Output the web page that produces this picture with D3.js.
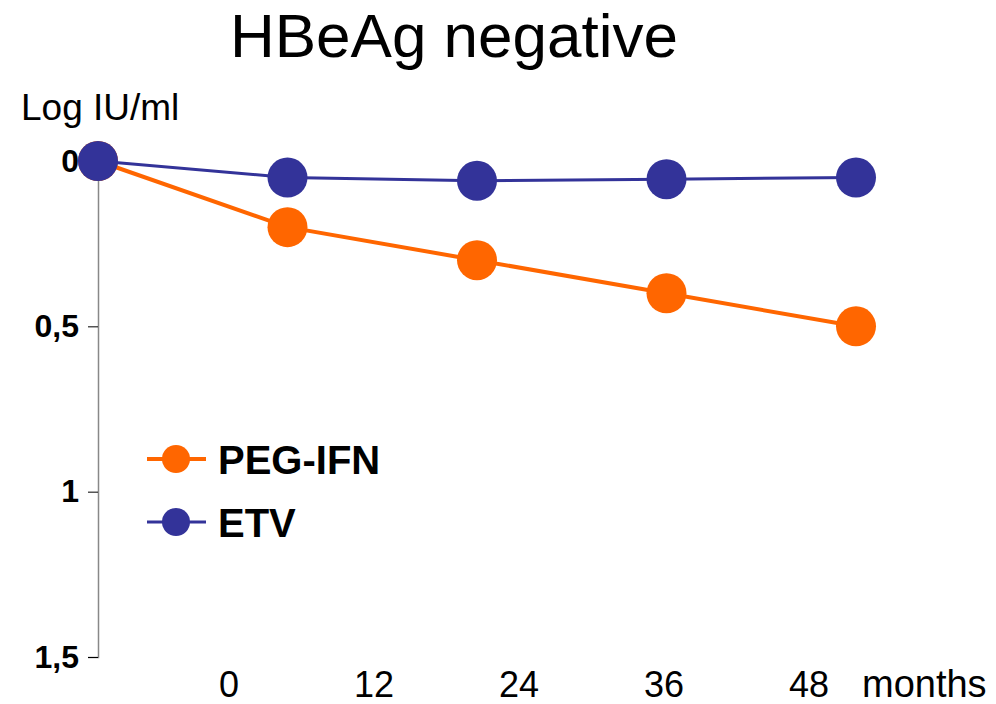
<!DOCTYPE html>
<html>
<head>
<meta charset="utf-8">
<script src="https://cdn.jsdelivr.net/npm/d3@7"></script>
<style>
  html, body { margin: 0; padding: 0; background: #fff; }
  svg { display: block; font-family: "Liberation Sans", Arial, sans-serif; }
</style>
</head>
<body>
<svg id="chart" width="996" height="704"></svg>
<script>
// Visit index (baseline + four follow-ups)
const visits = [0, 1, 2, 3, 4];
// Decline in log IU/ml per treatment arm
const pegIfn = [0, 0.2, 0.3, 0.4, 0.5];
const etv = [0, 0.05, 0.06, 0.055, 0.05];
// Axis labels
const yTicks = [0, 0.5, 1, 1.5];
const monthTicks = [0, 12, 24, 36, 48];

const series = [
  { name: "PEG-IFN", values: pegIfn, color: "#FF6600", width: 4 },
  { name: "ETV", values: etv, color: "#333399", width: 3 }
];

const svg = d3.select("#chart");

const x = d3.scalePoint().domain(visits).range([98, 856]);
const y = d3.scaleLinear().domain([0, 1.5]).range([161, 657]);
const xMonths = d3.scaleLinear().domain([0, 48]).range([229, 809]);

// Title
svg.append("text")
  .attr("x", 454).attr("y", 57)
  .attr("text-anchor", "middle")
  .attr("font-size", 62)
  .attr("fill", "#000")
  .text("HBeAg negative");

// Y axis title
svg.append("text")
  .attr("x", 21).attr("y", 120)
  .attr("font-size", 37)
  .attr("fill", "#000")
  .text("Log IU/ml");

// Y axis
const yAxis = svg.append("g")
  .attr("transform", "translate(98,0)")
  .call(d3.axisLeft(y)
    .tickValues(yTicks)
    .tickSize(10)
    .tickPadding(9)
    .tickFormat(d => String(d).replace(".", ",")));
yAxis.select(".domain").attr("stroke", "#888").attr("stroke-width", 1.5);
yAxis.selectAll(".tick line").attr("stroke", "#000").attr("stroke-width", 1);
yAxis.selectAll(".tick text")
  .attr("font-family", "'Liberation Sans', Arial, sans-serif")
  .attr("font-size", 32)
  .attr("font-weight", "bold")
  .attr("fill", "#000");

// Month labels along the bottom
svg.append("g").selectAll("text")
  .data(monthTicks)
  .join("text")
  .attr("x", d => xMonths(d))
  .attr("y", 697)
  .attr("text-anchor", "middle")
  .attr("font-size", 36)
  .attr("fill", "#000")
  .text(d => d);

svg.append("text")
  .attr("x", 862).attr("y", 697)
  .attr("font-size", 38)
  .attr("fill", "#000")
  .text("months");

// Lines and markers
const line = d3.line()
  .x((d, i) => x(visits[i]))
  .y(d => y(d));

const groups = svg.append("g").selectAll("g")
  .data(series)
  .join("g");

groups.append("path")
  .attr("d", d => line(d.values))
  .attr("fill", "none")
  .attr("stroke", d => d.color)
  .attr("stroke-width", d => d.width);

// ETV drawn last so its baseline marker sits on top
groups.selectAll("circle")
  .data(d => d.values.map((v, i) => ({ v, i, color: d.color })))
  .join("circle")
  .attr("cx", d => x(visits[d.i]))
  .attr("cy", d => y(d.v))
  .attr("r", 20)
  .attr("fill", d => d.color);

// Legend
const legend = svg.append("g").attr("transform", "translate(147,459)");
const items = legend.selectAll("g")
  .data(series)
  .join("g")
  .attr("transform", (d, i) => `translate(0,${i * 63})`);
items.append("line")
  .attr("x1", 0).attr("x2", 59)
  .attr("stroke", d => d.color)
  .attr("stroke-width", d => d.width);
items.append("circle")
  .attr("cx", 29).attr("r", 14)
  .attr("fill", d => d.color);
items.append("text")
  .attr("x", 71).attr("y", 15)
  .attr("font-size", 40)
  .attr("font-weight", "bold")
  .attr("fill", "#000")
  .text(d => d.name);
</script>
</body>
</html>
